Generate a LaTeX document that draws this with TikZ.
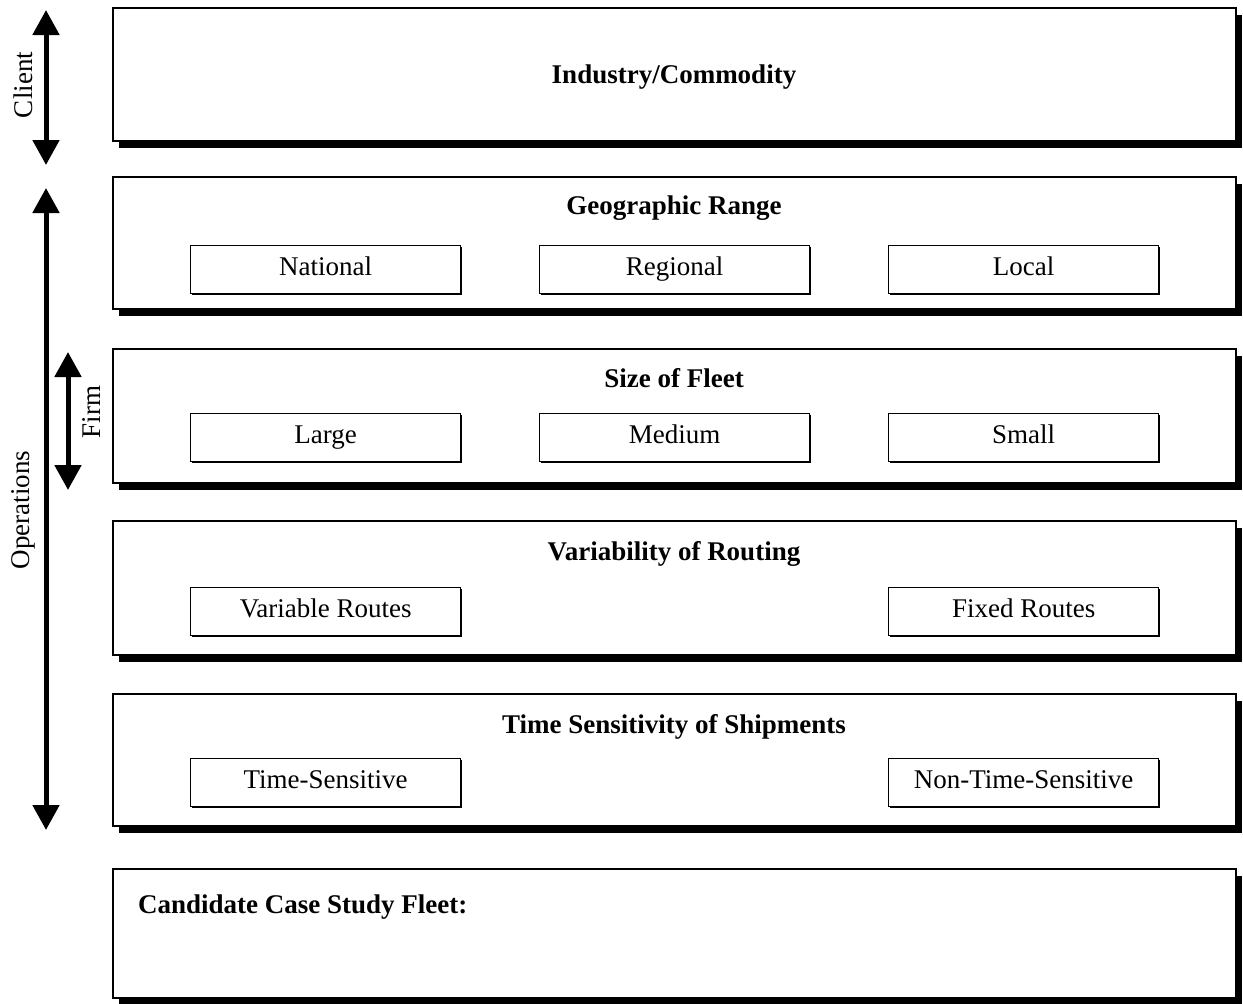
\documentclass[tikz,border=0pt]{standalone}
\usepackage{fontspec}
\setmainfont{Liberation Serif}
\usetikzlibrary{arrows.meta,shadows}
\begin{document}
\begin{tikzpicture}[x=1pt,y=-1pt,
  bigbox/.style={draw, line width=1.6pt, fill=white, anchor=north west, inner sep=0pt,
    minimum width=1123pt,
    drop shadow={shadow xshift=6pt, shadow yshift=-7pt, fill=black, opacity=1}},
  optbox/.style={draw, line width=1.3pt, fill=white, anchor=north west, inner sep=0pt,
    minimum width=270pt, minimum height=48pt, text height=18pt, text depth=6pt,
    font=\fontsize{27}{31}\selectfont,
    drop shadow={shadow xshift=1.5pt, shadow yshift=-1.5pt, fill=black, opacity=1}},
  ttl/.style={anchor=base, font=\fontsize{27}{32}\selectfont\bfseries, inner sep=0pt},
  side/.style={rotate=90, font=\fontsize{27}{31}\selectfont, inner sep=0pt},
  dbl/.style={line width=5pt, {Triangle[width=26pt,length=25pt]}-{Triangle[width=26pt,length=25pt]}, shorten <=0pt, shorten >=0pt}
]
\useasboundingbox[fill=white] (0,0) rectangle (1243,1004);

% big boxes
\node[bigbox, minimum height=133pt] (b1) at (112,7) {};
\node[bigbox, minimum height=132pt] (b2) at (112,176) {};
\node[bigbox, minimum height=134pt] (b3) at (112,348) {};
\node[bigbox, minimum height=134pt] (b4) at (112,520) {};
\node[bigbox, minimum height=132pt] (b5) at (112,693) {};
\node[bigbox, minimum height=129pt] (b6) at (112,868) {};

% titles
\node[ttl] (t1) at (674,83) {Industry/Commodity};
\node[ttl] (t2) at (674,214) {Geographic Range};
\node[ttl] (t3) at (674,387) {Size of Fleet};
\node[ttl] (t4) at (674,560) {Variability of Routing};
\node[ttl] (t5) at (674,733) {Time Sensitivity of Shipments};
\node[ttl, anchor=base west] (t6) at (138,913) {Candidate Case Study Fleet:};

% option boxes
\node[optbox] (n1) at (190,245) {National};
\node[optbox] (n2) at (539,245) {Regional};
\node[optbox] (n3) at (888,245) {Local};
\node[optbox] (s1) at (190,413) {Large};
\node[optbox] (s2) at (539,413) {Medium};
\node[optbox] (s3) at (888,413) {Small};
\node[optbox] (v1) at (190,587) {Variable Routes};
\node[optbox] (v3) at (888,587) {Fixed Routes};
\node[optbox] (ts1) at (190,758) {Time-Sensitive};
\node[optbox] (ts3) at (888,758) {Non-Time-Sensitive};

% side arrows
\coordinate (c1) at (46,10);
\coordinate (c2) at (46,165);
\coordinate (o1) at (46,188);
\coordinate (o2) at (46,830);
\coordinate (f1) at (68,352);
\coordinate (f2) at (68,490);
\draw[dbl] (c1) -- (c2);
\draw[dbl] (o1) -- (o2);
\draw[dbl] (f1) -- (f2);
\node[side] (lc) at (23,85) {Client};
\node[side] (lo) at (23,510) {Operations};
\node[side] (lf) at (92,412) {Firm};
\end{tikzpicture}
\end{document}
